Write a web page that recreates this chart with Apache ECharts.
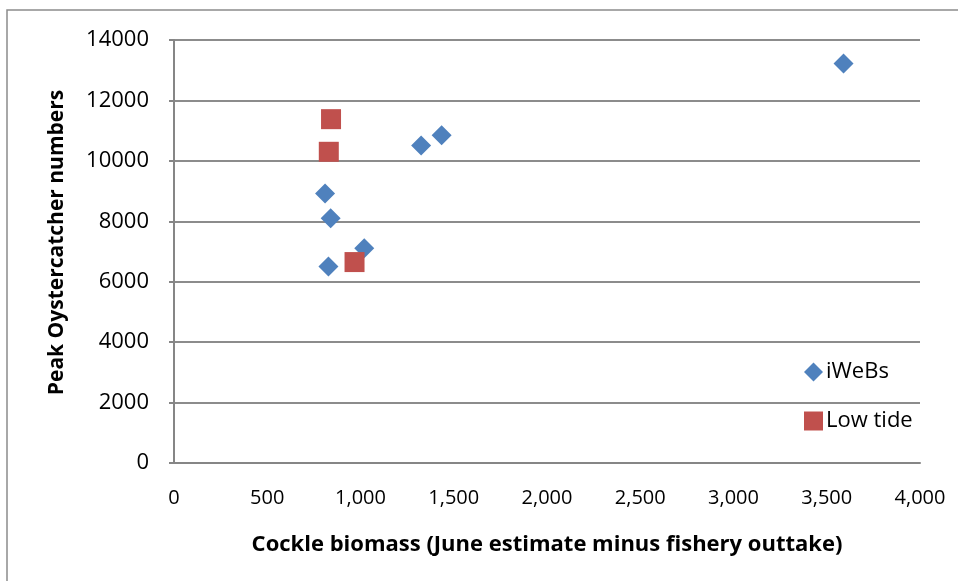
<!DOCTYPE html>
<html>
<head>
<meta charset="utf-8">
<script src="https://cdn.jsdelivr.net/npm/echarts@6/dist/echarts.min.js"></script>
<style>
  html, body { margin: 0; padding: 0; background: #fff; }
  #main { width: 958px; height: 581px; }
</style>
</head>
<body>
<div id="main"></div>
<script>
// iWeBs counts: [cockle biomass, peak oystercatchers]
const iwebsX = [3590, 1435, 1325, 810, 840, 1020, 828]
const iwebsY = [13220, 10850, 10510, 8920, 8100, 7110, 6500]
// low tide counts
const lowTideX = [842, 830, 968]
const lowTideY = [11380, 10300, 6650]

const xTicks = [0, 500, 1000, 1500, 2000, 2500, 3000, 3500, 4000]
const yTicks = [0, 2000, 4000, 6000, 8000, 10000, 12000, 14000]

const font = "'Open Sans', sans-serif"

const chart = echarts.init(document.getElementById("main"))

const pairs = (xs, ys) => xs.map((x, i) => [x, ys[i]])

const option = {
  animation: false,
  textStyle: { fontFamily: font },
  grid: {
    left: 174,
    right: 38,
    top: 40,
    bottom: 118
  },
  graphic: [
    // partial outer frame (top and left edges)
    {
      type: "polyline",
      shape: { points: [[7, 581], [7, 10], [958, 10]] },
      style: { stroke: "#8c8c8c", lineWidth: 1.5, fill: null },
      silent: true
    }
  ],
  legend: {
    orient: "vertical",
    left: 799,
    top: 356,
    itemGap: 27,
    itemWidth: 19,
    itemHeight: 19,
    textStyle: { fontFamily: font, fontSize: 22, color: "#000", padding: [0, 0, 0, -2] },
    data: [
      { name: "iWeBs", icon: "diamond" },
      { name: "Low tide", icon: "rect" }
    ]
  },
  xAxis: {
    type: "value",
    min: xTicks[0],
    max: xTicks[xTicks.length - 1],
    interval: 500,
    name: "Cockle biomass (June estimate minus fishery outtake)",
    nameLocation: "middle",
    nameGap: 71,
    nameTextStyle: { fontFamily: font, fontSize: 22, fontWeight: "bold", color: "#000" },
    axisLine: { show: true, lineStyle: { color: "#868686", width: 2 } },
    axisTick: { show: false },
    splitLine: { show: false },
    axisLabel: {
      margin: 25,
      fontFamily: font,
      fontSize: 20,
      color: "#000",
      formatter: v => v.toLocaleString("en-US")
    }
  },
  yAxis: {
    type: "value",
    min: yTicks[0],
    max: yTicks[yTicks.length - 1],
    interval: 2000,
    name: "Peak Oystercatcher numbers",
    nameLocation: "middle",
    nameGap: 106,
    nameRotate: 90,
    nameTextStyle: {
      fontFamily: font,
      fontSize: 21,
      fontWeight: "bold",
      color: "#000",
      padding: [0, 0, 0, 18]
    },
    axisLine: { show: true, lineStyle: { color: "#868686", width: 2 } },
    axisTick: { show: true, length: 5, lineStyle: { color: "#868686", width: 2 } },
    splitLine: { show: true, lineStyle: { color: "#8c8c8c", width: 2 } },
    axisLabel: {
      margin: 25,
      fontFamily: font,
      fontSize: 22,
      color: "#000",
      formatter: v => String(v)
    }
  },
  series: [
    {
      name: "iWeBs",
      type: "scatter",
      symbol: "diamond",
      symbolSize: 20,
      itemStyle: { color: "#4F81BD", opacity: 1 },
      data: pairs(iwebsX, iwebsY)
    },
    {
      name: "Low tide",
      type: "scatter",
      symbol: "rect",
      symbolSize: 20,
      itemStyle: { color: "#C0504D", opacity: 1 },
      data: pairs(lowTideX, lowTideY)
    }
  ]
}

chart.setOption(option)
</script>
</body>
</html>
